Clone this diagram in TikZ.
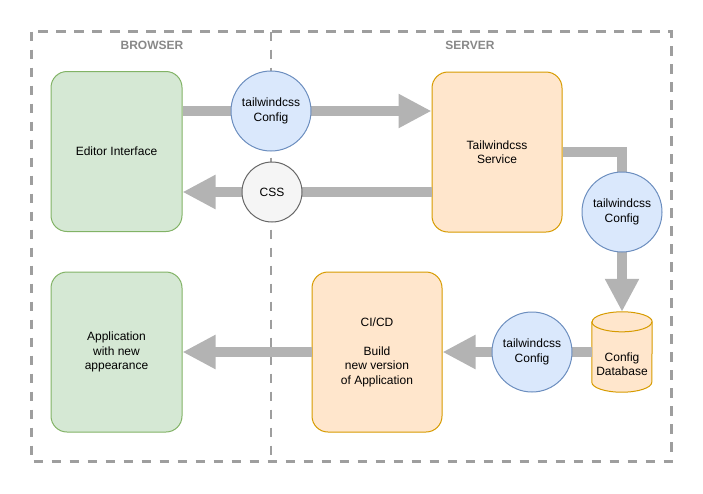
\documentclass[tikz,border=0pt]{standalone}
\usepackage{fontspec}
\setmainfont{Liberation Sans}
\usetikzlibrary{arrows.meta,calc}
\definecolor{greenfill}{HTML}{D5E8D4}
\definecolor{greenline}{HTML}{82B366}
\definecolor{orangefill}{HTML}{FFE6CC}
\definecolor{orangeline}{HTML}{D79B00}
\definecolor{bluefill}{HTML}{DAE8FC}
\definecolor{blueline}{HTML}{6C8EBF}
\definecolor{grayfill}{HTML}{F5F5F5}
\definecolor{grayline}{HTML}{666666}
\definecolor{arrowgray}{HTML}{B3B3B3}
\definecolor{framegray}{HTML}{9E9E9E}
\definecolor{labelgray}{HTML}{888888}
\begin{document}
\begin{tikzpicture}[x=1pt,y=-1pt,
  every node/.style={font=\fontsize{12}{14.5}\selectfont, align=center},
  framestyle/.style={draw=framegray, line width=2.5pt, dash pattern=on 9.5pt off 8.5pt},
  zonelabel/.style={font=\fontsize{12}{14.5}\selectfont\bfseries, text=labelgray},
  greenbox/.style={draw=greenline, fill=greenfill, line width=1pt, rounded corners=16pt, minimum width=131pt, minimum height=160pt, inner sep=0pt},
  orangebox/.style={draw=orangeline, fill=orangefill, line width=1pt, rounded corners=16pt, minimum width=130pt, minimum height=160pt, inner sep=0pt},
  configcircle/.style={circle, draw=blueline, fill=bluefill, line width=1pt, minimum size=80pt, inner sep=0pt},
  csscircle/.style={circle, draw=grayline, fill=grayfill, line width=1pt, minimum size=60pt, inner sep=0pt},
  fatarrow/.style={draw=arrowgray, line width=10pt, line join=miter, -{Triangle[length=33pt,width=32pt]}},
]
\useasboundingbox (0,0) rectangle (703,493);
% frame and divider
\draw[framestyle] (31.5,31.5) rectangle (671.5,461.5);
\coordinate (divtop) at (271,31.5);
\coordinate (divbot) at (271,461.5);
\draw[framestyle] (divtop) -- (divbot);
\node[zonelabel] (browser) at (152,45) {BROWSER};
\node[zonelabel] (server) at (470,45) {SERVER};

% boxes
\node[greenbox] (editor) at (116.5,151.5) {Editor Interface};
\node[greenbox] (app) at (116.5,352) {Application\\with new\\appearance};
\node[orangebox] (service) at (497,152) {Tailwindcss\\Service};
\node[orangebox] (cicd) at (377,352) {CI/CD\\[14.5pt]Build\\new version\\of Application};

% database (cylinder)
\node[minimum width=60pt, minimum height=80pt, inner sep=0pt] (db) at (622,352) {};
\draw[draw=orangeline, fill=orangefill, line width=1pt]
  (db.north west) ++(0,10) -- ($(db.south west)+(0,-10)$) arc (180:360:30pt and 10pt)
  -- ($(db.north east)+(0,10)$) arc (0:180:30pt and 10pt) -- cycle;
\draw[draw=orangeline, line width=1pt] ($(db.north west)+(0,10)$) arc (180:360:30pt and 10pt);
\node (dbtext) at (622,364) {Config\\Database};

% circles positions (defined before arrows)
\coordinate (cfg1c) at (271,111);
\coordinate (cssc) at (272,192);
\coordinate (cfg2c) at (622,212);
\coordinate (cfg3c) at (532,352);

% arrows
\draw[fatarrow] (editor.east |- cfg1c) -- (service.west |- cfg1c);
\draw[fatarrow] (service.west |- cssc) -- (editor.east |- cssc);
\draw[fatarrow] (service.east) -- (cfg2c |- service.east) -- (db.north);
\draw[fatarrow] (db.west) -- (cicd.east);
\draw[fatarrow] (cicd.west) -- (app.east);

% circles on top
\node[configcircle] (cfg1) at (cfg1c) {tailwindcss\\Config};
\node[csscircle] (css) at (cssc) {CSS};
\node[configcircle] (cfg2) at (cfg2c) {tailwindcss\\Config};
\node[configcircle] (cfg3) at (cfg3c) {tailwindcss\\Config};
\end{tikzpicture}
\end{document}
